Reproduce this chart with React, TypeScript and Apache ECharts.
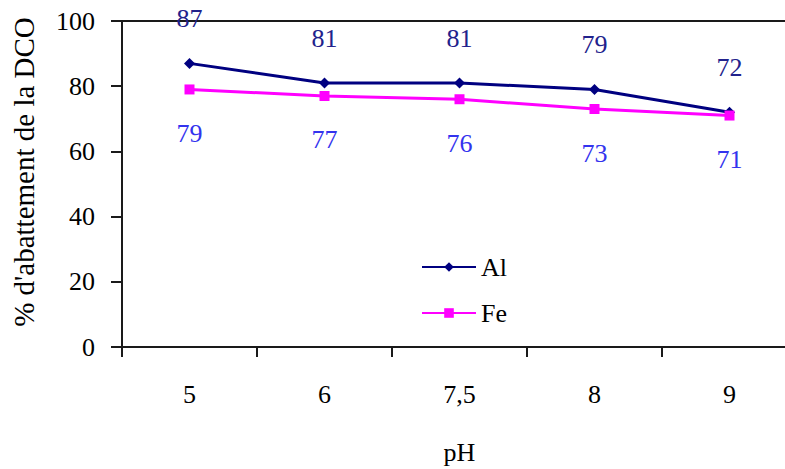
import React, { useEffect, useRef } from "react";
import * as echarts from "echarts";

const categories = ["5", "6", "7,5", "8", "9"];
const alValues = [87, 81, 81, 79, 72];
const feValues = [79, 77, 76, 73, 71];
const yTicks = { min: 0, max: 100, interval: 20 };

const FONT = "'Liberation Serif', 'Times New Roman', serif";

export default function App() {
  const ref = useRef<HTMLDivElement>(null);
  useEffect(() => {
    if (!ref.current) return;
    const chart = echarts.init(ref.current, null, { renderer: "svg" });
    chart.setOption({
      animation: false,
      backgroundColor: "#ffffff",
      grid: {
        left: 122,
        right: -12,
        top: 21,
        bottom: 122,
        outerBoundsMode: "none",
        containLabel: false,
        show: true,
        borderColor: "#1a1a1a",
        borderWidth: 2,
        backgroundColor: "transparent",
      },
      legend: {
        orient: "vertical",
        left: 421,
        top: 252,
        padding: 0,
        itemWidth: 54,
        itemHeight: 12,
        itemGap: 16,
        textStyle: { fontFamily: FONT, fontSize: 26, color: "#000", lineHeight: 30 },
        data: ["Al", "Fe"],
      },
      xAxis: {
        type: "category",
        data: categories,
        boundaryGap: true,
        name: "pH",
        nameLocation: "middle",
        nameGap: 92,
        nameTextStyle: { fontFamily: FONT, fontSize: 26, color: "#000" },
        axisLine: { show: true, lineStyle: { color: "#1a1a1a", width: 2 } },
        axisTick: { show: true, length: 10, lineStyle: { color: "#1a1a1a", width: 2 } },
        axisLabel: { margin: 34, fontFamily: FONT, fontSize: 26, color: "#000" },
        splitLine: { show: false },
      },
      yAxis: {
        type: "value",
        min: yTicks.min,
        max: yTicks.max,
        interval: yTicks.interval,
        name: "% d'abattement de la DCO",
        nameLocation: "middle",
        nameGap: 84,
        nameTextStyle: { fontFamily: FONT, fontSize: 29, color: "#000", padding: [0, 0, 0, 24] },
        axisLine: { show: true, lineStyle: { color: "#1a1a1a", width: 2 } },
        axisTick: { show: true, length: 11, lineStyle: { color: "#1a1a1a", width: 2 } },
        axisLabel: { margin: 27, fontFamily: FONT, fontSize: 26, color: "#000" },
        splitLine: { show: false },
      },
      series: [
        {
          name: "Al",
          type: "line",
          data: alValues,
          symbol: "diamond",
          symbolSize: 11,
          lineStyle: { color: "#000080", width: 3 },
          itemStyle: { color: "#000080" },
          label: {
            show: true,
            position: "top",
            distance: 26,
            fontFamily: FONT,
            fontSize: 26,
            color: "#22228c",
          },
        },
        {
          name: "Fe",
          type: "line",
          data: feValues,
          symbol: "rect",
          symbolSize: 10,
          lineStyle: { color: "#ff00ff", width: 3 },
          itemStyle: { color: "#ff00ff" },
          label: {
            show: true,
            position: "bottom",
            distance: 26,
            fontFamily: FONT,
            fontSize: 26,
            color: "#3333ee",
          },
        },
      ],
    });
    return () => chart.dispose();
  }, []);
  return (
    <div
      ref={ref}
      style={{ position: "absolute", left: 0, top: 0, width: 785, height: 469, background: "#fff" }}
    />
  );
}
